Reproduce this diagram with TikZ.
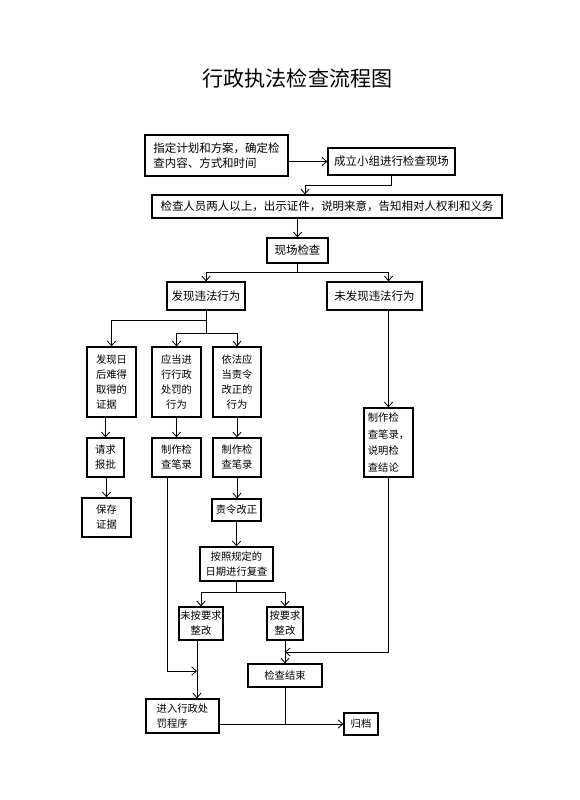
\documentclass[tikz,border=0pt]{standalone}
\usepackage{fontspec}
\newfontfamily\cjk{Noto Sans CJK SC}
\usepackage{tikz}
\usetikzlibrary{arrows.meta}
\pgfdeclarelayer{bg}
\pgfsetlayers{bg,main}
\tikzset{
        bigbox/.style={draw, line width=1.1pt, inner sep=0pt, align=center, font=\cjk\fontsize{9.8pt}{12.8pt}\selectfont},
        smallbox/.style={draw, line width=1.1pt, inner sep=0pt, align=center, font=\cjk\fontsize{8.8pt}{12.8pt}\selectfont},
        wire/.style={line width=0.7pt},
        link/.style={wire, -{Straight Barb[length=4pt,width=7pt]}},
}
\begin{document}
\begin{tikzpicture}
        \useasboundingbox (0cm, 0cm) rectangle (17.370000cm, -24.000000cm);
        \node (t0) at (8.925000cm, -2.340000cm) {\cjk\fontsize{18pt}{20pt}\selectfont 行政执法检查流程图};
        \node (v0) [bigbox, align=left, minimum width=4.290000cm, minimum height=1.230000cm] at (6.495000cm, -4.665000cm) {指定计划和方案，确定检\\查内容、方式和时间};
        \node (v1) [bigbox, minimum width=3.810000cm, minimum height=0.810000cm] at (11.745000cm, -4.845000cm) {成立小组进行检查现场};
        \node (v2) [bigbox, minimum width=10.500000cm, minimum height=0.690000cm] at (9.810000cm, -6.195000cm) {检查人员两人以上，出示证件，说明来意，告知相对人权利和义务};
        \node (v3) [bigbox, minimum width=1.830000cm, minimum height=0.750000cm] at (8.925000cm, -7.515000cm) {现场检查};
        \node (v4) [bigbox, minimum width=2.340000cm, minimum height=0.840000cm] at (6.180000cm, -8.880000cm) {发现违法行为};
        \node (v5) [bigbox, minimum width=2.850000cm, minimum height=0.840000cm] at (11.235000cm, -8.880000cm) {未发现违法行为};
        \node (v6) [smallbox, align=left, minimum width=1.470000cm, minimum height=2.100000cm] at (3.345000cm, -11.460000cm) {发现日\\后难得\\取得的\\证据};
        \node (v7) [smallbox, minimum width=1.470000cm, minimum height=2.100000cm] at (5.295000cm, -11.460000cm) {应当进\\行行政\\处罚的\\行为};
        \node (v8) [smallbox, minimum width=1.440000cm, minimum height=2.100000cm] at (7.110000cm, -11.460000cm) {依法应\\当责令\\改正的\\行为};
        \node (v9) [smallbox, minimum width=1.110000cm, minimum height=1.170000cm] at (3.165000cm, -13.725000cm) {请求\\报批};
        \node (v10) [smallbox, minimum width=1.470000cm, minimum height=1.170000cm] at (5.295000cm, -13.725000cm) {制作检\\查笔录};
        \node (v11) [smallbox, minimum width=1.440000cm, minimum height=1.170000cm] at (7.110000cm, -13.725000cm) {制作检\\查笔录};
        \node (v12) [smallbox, minimum width=1.470000cm, minimum height=1.170000cm] at (3.195000cm, -15.525000cm) {保存\\证据};
        \node (v13) [smallbox, minimum width=1.470000cm, minimum height=0.660000cm] at (7.095000cm, -15.300000cm) {责令改正};
        \node (v14) [smallbox, minimum width=2.190000cm, minimum height=1.020000cm] at (7.095000cm, -16.920000cm) {按照规定的\\日期进行复查};
        \node (v15) [smallbox, minimum width=1.320000cm, minimum height=0.990000cm] at (6.030000cm, -18.705000cm) {未按要求\\整改};
        \node (v16) [smallbox, minimum width=1.080000cm, minimum height=0.990000cm] at (8.550000cm, -18.705000cm) {按要求\\整改};
        \node (v17) [smallbox, minimum width=2.220000cm, minimum height=0.690000cm] at (8.550000cm, -20.265000cm) {检查结束};
        \node (v18) [smallbox, align=left, minimum width=1.470000cm, minimum height=2.070000cm, font=\cjk\fontsize{8.8pt}{14pt}\selectfont] at (11.655000cm, -13.275000cm) {制作检\\查笔录，\\说明检\\查结论};
        \node (v19) [smallbox, align=left, minimum width=2.190000cm, minimum height=1.020000cm] at (5.475000cm, -21.480000cm) {进入行政处\\罚程序};
        \node (v20) [smallbox, minimum width=1.020000cm, minimum height=0.660000cm] at (10.830000cm, -21.720000cm) {归档};
        \coordinate (j0) at (9.150000cm, -5.550000cm);
        \coordinate (j1) at (8.925000cm, -8.160000cm);
        \coordinate (j2) at (6.180000cm, -9.600000cm);
        \coordinate (j3) at (6.180000cm, -9.990000cm);
        \coordinate (j4) at (7.095000cm, -17.760000cm);
        \coordinate (j5) at (8.550000cm, -19.560000cm);
        \coordinate (j6) at (5.910000cm, -20.130000cm);
        \begin{pgfonlayer}{bg}
                \draw [link] (v0.east |- v1) -- (v1.west);
                \draw [link] (v1.south) |- (j0) -- (j0 |- v2.north);
                \draw [link] (v3 |- v2.south) -- (v3.north);
                \draw [wire] (v3.south) -- (j1);
                \draw [link] (j1) -| (v4.north);
                \draw [link] (j1) -| (v18 |- v5.north);
                \draw [wire] (v4.south) -- (j3);
                \draw [link] (j2) -| (v6.north);
                \draw [link] (j3) -| (v7.north);
                \draw [link] (j3) -| (v8.north);
                \draw [link] (v9 |- v6.south) -- (v9.north);
                \draw (v7) edge [link] (v10);
                \draw (v8) edge [link] (v11);
                \draw [link] (v12 |- v9.south) -- (v12.north);
                \draw [link] (v11.south) -- (v11.south |- v13.north);
                \draw (v13) edge [link] (v14);
                \draw [wire] (v14.south) -- (j4);
                \draw [link] (j4) -| (v15.north);
                \draw [link] (j4) -| (v16.north);
                \draw (v16) edge [link] (v17);
                \draw [link] (v18 |- v5.south) -- (v18.north);
                \draw [link] (v18.south) |- (j5);
                \draw [link] ([xshift=-0.270000cm]v10.south) |- (j6);
                \draw [link] (j6 |- v15.south) -- (j6 |- v19.north);
                \draw [wire] (v17.south) -- (v17 |- v20);
                \draw [link] (v19.east |- v20) -- (v20.west);
        \end{pgfonlayer}
\end{tikzpicture}
\end{document}
